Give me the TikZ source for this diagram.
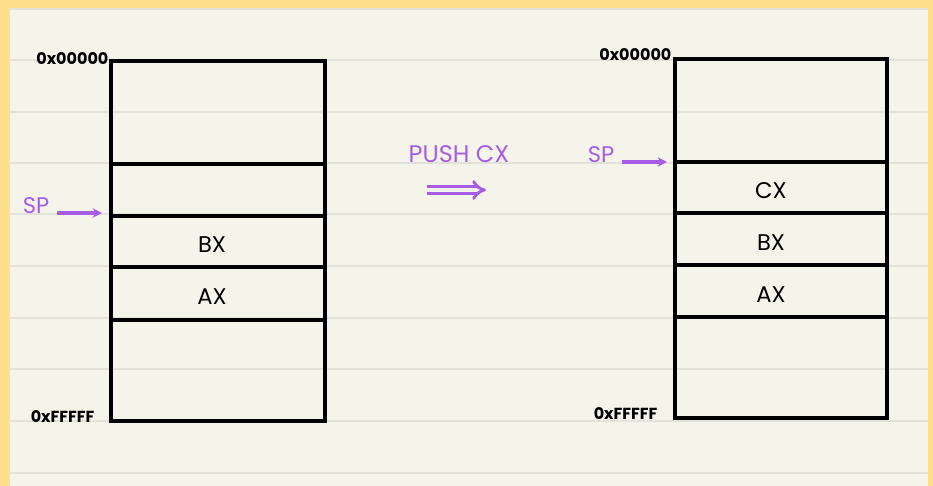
\documentclass[tikz,border=0pt]{standalone}
\usepackage{fontspec}
\setmainfont{Poppins}
\usepackage{tikz}
\usetikzlibrary{arrows.meta}
\definecolor{purp}{RGB}{166, 92, 230}
\definecolor{paper}{RGB}{245, 244, 234}
\definecolor{frame}{RGB}{255, 223, 138}
\definecolor{ruled}{RGB}{226, 226, 219}

\begin{document}
\begin{tikzpicture}[x=0.75pt, y=-0.75pt,
    cell/.style={font=\fontsize{17}{17}\selectfont},
    addr/.style={font=\bfseries\fontsize{12}{12}\selectfont, inner sep=1pt},
    sp/.style={text=purp, font=\fontsize{17}{17}\selectfont, inner sep=1pt},
    sparrow/.style={purp, line width=2.6pt, -{Stealth[length=7pt, width=7pt]}},
    stack/.style={line width=2.6pt, line cap=round}]
        \useasboundingbox (0,0) rectangle (933,486);

        % Paper and yellow frame
        \fill[frame] (0,0) rectangle (933,486);
        \fill[paper] (10,8) rectangle (928,486);
        \foreach \y in {9,60,112,163,214,266,318,369,421,473}
            \draw[ruled, line width=1pt] (10,\y) -- (928,\y);

        % Stack before the push
        \draw[stack] (111,61) rectangle (325,421);
        \foreach \y in {164,216,267,320}
            \draw[stack] (111,\y) -- (325,\y);
        \node[cell] (bxL) at (212,245) {BX};
        \node[cell] (axL) at (212,297) {AX};
        \node[addr, anchor=east] (topL) at (110,59) {0x00000};
        \node[addr, anchor=east] (botL) at (96,417) {0xFFFFF};

        % Stack pointer, left
        \node[sp] (spL) at (36,206) {SP};
        \coordinate (spTipL) at (102,213);
        \draw[sparrow] ([xshift=5pt]spL.east |- spTipL) -- (spTipL);

        % The push
        \node[sp, font=\fontsize{18}{18}\selectfont] (push) at (459,154) {PUSH CX};
        \coordinate (pushA) at (427,190);
        \coordinate (pushB) at (486,190);
        \draw[purp, line width=2.2pt, double=paper, double distance=2.6pt, -{Implies}] (pushA) -- (pushB);

        % Stack after the push
        \draw[stack] (675,59) rectangle (887,418);
        \foreach \y in {162,213,265,317}
            \draw[stack] (675,\y) -- (887,\y);
        \node[cell] (cxR) at (771,191) {CX};
        \node[cell] (bxR) at (771,243) {BX};
        \node[cell] (axR) at (771,295) {AX};
        \node[addr, anchor=east] (topR) at (673,55) {0x00000};
        \node[addr, anchor=east] (botR) at (659,414) {0xFFFFF};

        % Stack pointer, right
        \node[sp] (spR) at (601,155) {SP};
        \coordinate (spTipR) at (667,162);
        \draw[sparrow] ([xshift=5pt]spR.east |- spTipR) -- (spTipR);
\end{tikzpicture}
\end{document}
